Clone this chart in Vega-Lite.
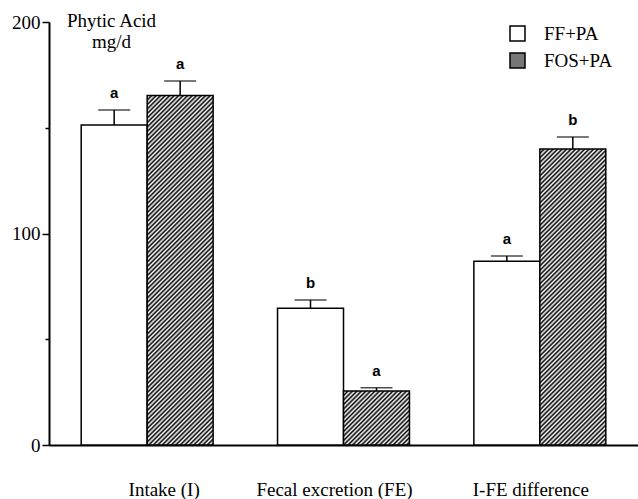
{
  "$schema": "https://vega.github.io/schema/vega-lite/v6.json",
  "autosize": {"type": "none"},
  "padding": {"left": 49, "top": 22, "right": 0, "bottom": 54},
  "width": 589,
  "height": 423,
  "background": "white",
  "config": {"view": {"stroke": null}},
  "data": {"values": [
    {"cat": "Intake (I)", "group": "FF+PA", "value": 151.3, "upper": 158.4, "letter": "a"},
    {"cat": "Intake (I)", "group": "FOS+PA", "value": 165.2, "upper": 172.1, "letter": "a"},
    {"cat": "Fecal excretion (FE)", "group": "FF+PA", "value": 64.6, "upper": 68.6, "letter": "b"},
    {"cat": "Fecal excretion (FE)", "group": "FOS+PA", "value": 25.5, "upper": 27.1, "letter": "a"},
    {"cat": "I-FE difference", "group": "FF+PA", "value": 86.9, "upper": 89.4, "letter": "a"},
    {"cat": "I-FE difference", "group": "FOS+PA", "value": 140.0, "upper": 145.6, "letter": "b"}
  ]},
  "encoding": {
    "x": {
      "field": "cat", "type": "nominal",
      "sort": ["Intake (I)", "Fecal excretion (FE)", "I-FE difference"],
      "scale": {"paddingInner": 0.328, "paddingOuter": 0.164},
      "axis": {
        "title": null, "labelAngle": 0, "ticks": false, "tickSize": 0,
        "labelFont": "Liberation Serif", "labelFontSize": 19, "labelColor": "black",
        "labelPadding": 35,
        "labelOffset": {"condition": [{"test": "datum.value === 'Intake (I)'", "value": 17}], "value": -9},
        "domainColor": "black", "domainWidth": 2
      }
    },
    "xOffset": {"field": "group", "type": "nominal", "scale": {"domain": ["FF+PA", "FOS+PA"], "paddingInner": 0, "paddingOuter": 0}},
    "y": {
      "field": "value", "type": "quantitative",
      "scale": {"domain": [0, 200], "nice": false},
      "axis": {
        "title": ["Phytic Acid", "mg/d"],
        "titleAngle": 0, "titleX": 62, "titleY": 4, "titleAlign": "center", "titleBaseline": "alphabetic",
        "titleFont": "Liberation Serif", "titleFontSize": 19, "titleFontWeight": "normal", "titleColor": "black", "titleLineHeight": 21,
        "values": [0, 50, 100, 150, 200],
        "labelExpr": "datum.value % 100 === 0 ? datum.label : ''",
        "labelFont": "Liberation Serif", "labelFontSize": 19, "labelColor": "black", "labelPadding": 2,
        "tickColor": "black", "tickWidth": 1.5,
        "tickSize": {"condition": {"test": "datum.value % 100 === 0", "value": 7}, "value": 4},
        "grid": false, "domainColor": "black", "domainWidth": 2
      }
    }
  },
  "layer": [
    {
      "transform": [{"filter": "datum.group === 'FF+PA'"}],
      "mark": {"type": "bar", "stroke": "black", "strokeWidth": 1.5},
      "encoding": {
        "fill": {
          "field": "group", "type": "nominal",
          "scale": {"domain": ["FF+PA", "FOS+PA"], "range": ["white", "#777777"]},
          "legend": {
            "title": null, "orient": "none", "legendX": 459, "legendY": 2, "padding": 0,
            "symbolType": "square", "symbolSize": 225, "symbolStrokeColor": "black", "symbolStrokeWidth": 1.5, "symbolOpacity": 1,
            "labelFont": "Liberation Serif", "labelFontSize": 19, "labelColor": "black", "labelOffset": 17, "rowPadding": 6,
            "encode": {"symbols": {"update": {
              "stroke": {"value": "black"},
              "strokeWidth": {"value": 1.5},
              "fill": [
                {"test": "datum.value === 'FOS+PA'", "value": {"gradient": "linear", "x1": 0, "y1": 0, "x2": 1, "y2": 1, "stops": [
                  {"offset": 0.05, "color": "#fff"}, {"offset": 0.05, "color": "#000"}, {"offset": 0.11, "color": "#000"}, {"offset": 0.11, "color": "#fff"},
                  {"offset": 0.2, "color": "#fff"}, {"offset": 0.2, "color": "#000"}, {"offset": 0.26, "color": "#000"}, {"offset": 0.26, "color": "#fff"},
                  {"offset": 0.35, "color": "#fff"}, {"offset": 0.35, "color": "#000"}, {"offset": 0.41, "color": "#000"}, {"offset": 0.41, "color": "#fff"},
                  {"offset": 0.5, "color": "#fff"}, {"offset": 0.5, "color": "#000"}, {"offset": 0.56, "color": "#000"}, {"offset": 0.56, "color": "#fff"},
                  {"offset": 0.65, "color": "#fff"}, {"offset": 0.65, "color": "#000"}, {"offset": 0.71, "color": "#000"}, {"offset": 0.71, "color": "#fff"},
                  {"offset": 0.8, "color": "#fff"}, {"offset": 0.8, "color": "#000"}, {"offset": 0.86, "color": "#000"}, {"offset": 0.86, "color": "#fff"}
                ]}},
                {"value": "white"}
              ]
            }}}
          }
        }
      }
    },
    {
      "transform": [{"filter": "datum.group === 'FOS+PA' && datum.cat === 'Intake (I)'"}],
      "mark": {"type": "bar", "stroke": "black", "strokeWidth": 1.5, "fill": {"gradient": "linear", "x1": 0, "y1": 0, "x2": 0.23479, "y2": 1.24357, "stops": [
        {"offset": 0, "color": "#000"}, {"offset": 0.005, "color": "#fff"}, {"offset": 0.01, "color": "#000"}, {"offset": 0.015, "color": "#fff"}, {"offset": 0.02, "color": "#000"}, {"offset": 0.025, "color": "#fff"}, {"offset": 0.03, "color": "#000"}, {"offset": 0.035, "color": "#fff"}, {"offset": 0.04, "color": "#000"}, {"offset": 0.045, "color": "#fff"},
        {"offset": 0.05, "color": "#000"}, {"offset": 0.055, "color": "#fff"}, {"offset": 0.06, "color": "#000"}, {"offset": 0.065, "color": "#fff"}, {"offset": 0.07, "color": "#000"}, {"offset": 0.075, "color": "#fff"}, {"offset": 0.08, "color": "#000"}, {"offset": 0.085, "color": "#fff"}, {"offset": 0.09, "color": "#000"}, {"offset": 0.095, "color": "#fff"},
        {"offset": 0.1, "color": "#000"}, {"offset": 0.105, "color": "#fff"}, {"offset": 0.11, "color": "#000"}, {"offset": 0.115, "color": "#fff"}, {"offset": 0.12, "color": "#000"}, {"offset": 0.125, "color": "#fff"}, {"offset": 0.13, "color": "#000"}, {"offset": 0.135, "color": "#fff"}, {"offset": 0.14, "color": "#000"}, {"offset": 0.145, "color": "#fff"},
        {"offset": 0.15, "color": "#000"}, {"offset": 0.155, "color": "#fff"}, {"offset": 0.16, "color": "#000"}, {"offset": 0.165, "color": "#fff"}, {"offset": 0.17, "color": "#000"}, {"offset": 0.175, "color": "#fff"}, {"offset": 0.18, "color": "#000"}, {"offset": 0.185, "color": "#fff"}, {"offset": 0.19, "color": "#000"}, {"offset": 0.195, "color": "#fff"},
        {"offset": 0.2, "color": "#000"}, {"offset": 0.205, "color": "#fff"}, {"offset": 0.21, "color": "#000"}, {"offset": 0.215, "color": "#fff"}, {"offset": 0.22, "color": "#000"}, {"offset": 0.225, "color": "#fff"}, {"offset": 0.23, "color": "#000"}, {"offset": 0.235, "color": "#fff"}, {"offset": 0.24, "color": "#000"}, {"offset": 0.245, "color": "#fff"},
        {"offset": 0.25, "color": "#000"}, {"offset": 0.255, "color": "#fff"}, {"offset": 0.26, "color": "#000"}, {"offset": 0.265, "color": "#fff"}, {"offset": 0.27, "color": "#000"}, {"offset": 0.275, "color": "#fff"}, {"offset": 0.28, "color": "#000"}, {"offset": 0.285, "color": "#fff"}, {"offset": 0.29, "color": "#000"}, {"offset": 0.295, "color": "#fff"},
        {"offset": 0.3, "color": "#000"}, {"offset": 0.305, "color": "#fff"}, {"offset": 0.31, "color": "#000"}, {"offset": 0.315, "color": "#fff"}, {"offset": 0.32, "color": "#000"}, {"offset": 0.325, "color": "#fff"}, {"offset": 0.33, "color": "#000"}, {"offset": 0.335, "color": "#fff"}, {"offset": 0.34, "color": "#000"}, {"offset": 0.345, "color": "#fff"},
        {"offset": 0.35, "color": "#000"}, {"offset": 0.355, "color": "#fff"}, {"offset": 0.36, "color": "#000"}, {"offset": 0.365, "color": "#fff"}, {"offset": 0.37, "color": "#000"}, {"offset": 0.375, "color": "#fff"}, {"offset": 0.38, "color": "#000"}, {"offset": 0.385, "color": "#fff"}, {"offset": 0.39, "color": "#000"}, {"offset": 0.395, "color": "#fff"},
        {"offset": 0.4, "color": "#000"}, {"offset": 0.405, "color": "#fff"}, {"offset": 0.41, "color": "#000"}, {"offset": 0.415, "color": "#fff"}, {"offset": 0.42, "color": "#000"}, {"offset": 0.425, "color": "#fff"}, {"offset": 0.43, "color": "#000"}, {"offset": 0.435, "color": "#fff"}, {"offset": 0.44, "color": "#000"}, {"offset": 0.445, "color": "#fff"},
        {"offset": 0.45, "color": "#000"}, {"offset": 0.455, "color": "#fff"}, {"offset": 0.46, "color": "#000"}, {"offset": 0.465, "color": "#fff"}, {"offset": 0.47, "color": "#000"}, {"offset": 0.475, "color": "#fff"}, {"offset": 0.48, "color": "#000"}, {"offset": 0.485, "color": "#fff"}, {"offset": 0.49, "color": "#000"}, {"offset": 0.495, "color": "#fff"},
        {"offset": 0.5, "color": "#000"}, {"offset": 0.505, "color": "#fff"}, {"offset": 0.51, "color": "#000"}, {"offset": 0.515, "color": "#fff"}, {"offset": 0.52, "color": "#000"}, {"offset": 0.525, "color": "#fff"}, {"offset": 0.53, "color": "#000"}, {"offset": 0.535, "color": "#fff"}, {"offset": 0.54, "color": "#000"}, {"offset": 0.545, "color": "#fff"},
        {"offset": 0.55, "color": "#000"}, {"offset": 0.555, "color": "#fff"}, {"offset": 0.56, "color": "#000"}, {"offset": 0.565, "color": "#fff"}, {"offset": 0.57, "color": "#000"}, {"offset": 0.575, "color": "#fff"}, {"offset": 0.58, "color": "#000"}, {"offset": 0.585, "color": "#fff"}, {"offset": 0.59, "color": "#000"}, {"offset": 0.595, "color": "#fff"},
        {"offset": 0.6, "color": "#000"}, {"offset": 0.605, "color": "#fff"}, {"offset": 0.61, "color": "#000"}, {"offset": 0.615, "color": "#fff"}, {"offset": 0.62, "color": "#000"}, {"offset": 0.625, "color": "#fff"}, {"offset": 0.63, "color": "#000"}, {"offset": 0.635, "color": "#fff"}, {"offset": 0.64, "color": "#000"}, {"offset": 0.645, "color": "#fff"},
        {"offset": 0.65, "color": "#000"}, {"offset": 0.655, "color": "#fff"}, {"offset": 0.66, "color": "#000"}, {"offset": 0.665, "color": "#fff"}, {"offset": 0.67, "color": "#000"}, {"offset": 0.675, "color": "#fff"}, {"offset": 0.68, "color": "#000"}, {"offset": 0.685, "color": "#fff"}, {"offset": 0.69, "color": "#000"}, {"offset": 0.695, "color": "#fff"},
        {"offset": 0.7, "color": "#000"}, {"offset": 0.705, "color": "#fff"}, {"offset": 0.71, "color": "#000"}, {"offset": 0.715, "color": "#fff"}, {"offset": 0.72, "color": "#000"}, {"offset": 0.725, "color": "#fff"}, {"offset": 0.73, "color": "#000"}, {"offset": 0.735, "color": "#fff"}, {"offset": 0.74, "color": "#000"}, {"offset": 0.745, "color": "#fff"},
        {"offset": 0.75, "color": "#000"}, {"offset": 0.755, "color": "#fff"}, {"offset": 0.76, "color": "#000"}, {"offset": 0.765, "color": "#fff"}, {"offset": 0.77, "color": "#000"}, {"offset": 0.775, "color": "#fff"}, {"offset": 0.78, "color": "#000"}, {"offset": 0.785, "color": "#fff"}, {"offset": 0.79, "color": "#000"}, {"offset": 0.795, "color": "#fff"},
        {"offset": 0.8, "color": "#000"}, {"offset": 0.805, "color": "#fff"}, {"offset": 0.81, "color": "#000"}, {"offset": 0.815, "color": "#fff"}, {"offset": 0.82, "color": "#000"}, {"offset": 0.825, "color": "#fff"}, {"offset": 0.83, "color": "#000"}, {"offset": 0.835, "color": "#fff"}, {"offset": 0.84, "color": "#000"}, {"offset": 0.845, "color": "#fff"},
        {"offset": 0.85, "color": "#000"}, {"offset": 0.855, "color": "#fff"}, {"offset": 0.86, "color": "#000"}, {"offset": 0.865, "color": "#fff"}, {"offset": 0.87, "color": "#000"}, {"offset": 0.875, "color": "#fff"}, {"offset": 0.88, "color": "#000"}, {"offset": 0.885, "color": "#fff"}, {"offset": 0.89, "color": "#000"}, {"offset": 0.895, "color": "#fff"},
        {"offset": 0.9, "color": "#000"}, {"offset": 0.905, "color": "#fff"}, {"offset": 0.91, "color": "#000"}, {"offset": 0.915, "color": "#fff"}, {"offset": 0.92, "color": "#000"}, {"offset": 0.925, "color": "#fff"}
      ]}}
    },
    {
      "transform": [{"filter": "datum.group === 'FOS+PA' && datum.cat === 'Fecal excretion (FE)'"}],
      "mark": {"type": "bar", "stroke": "black", "strokeWidth": 1.5, "fill": {"gradient": "linear", "x1": 0, "y1": 0, "x2": 4.0887, "y2": 3.3427, "stops": [
        {"offset": 0, "color": "#000"}, {"offset": 0.005, "color": "#fff"}, {"offset": 0.01, "color": "#000"}, {"offset": 0.015, "color": "#fff"}, {"offset": 0.02, "color": "#000"}, {"offset": 0.025, "color": "#fff"}, {"offset": 0.03, "color": "#000"}, {"offset": 0.035, "color": "#fff"}, {"offset": 0.04, "color": "#000"}, {"offset": 0.045, "color": "#fff"},
        {"offset": 0.05, "color": "#000"}, {"offset": 0.055, "color": "#fff"}, {"offset": 0.06, "color": "#000"}, {"offset": 0.065, "color": "#fff"}, {"offset": 0.07, "color": "#000"}, {"offset": 0.075, "color": "#fff"}, {"offset": 0.08, "color": "#000"}, {"offset": 0.085, "color": "#fff"}, {"offset": 0.09, "color": "#000"}, {"offset": 0.095, "color": "#fff"},
        {"offset": 0.1, "color": "#000"}, {"offset": 0.105, "color": "#fff"}, {"offset": 0.11, "color": "#000"}, {"offset": 0.115, "color": "#fff"}, {"offset": 0.12, "color": "#000"}, {"offset": 0.125, "color": "#fff"}, {"offset": 0.13, "color": "#000"}, {"offset": 0.135, "color": "#fff"}, {"offset": 0.14, "color": "#000"}, {"offset": 0.145, "color": "#fff"},
        {"offset": 0.15, "color": "#000"}, {"offset": 0.155, "color": "#fff"}, {"offset": 0.16, "color": "#000"}, {"offset": 0.165, "color": "#fff"}, {"offset": 0.17, "color": "#000"}, {"offset": 0.175, "color": "#fff"}, {"offset": 0.18, "color": "#000"}, {"offset": 0.185, "color": "#fff"}, {"offset": 0.19, "color": "#000"}, {"offset": 0.195, "color": "#fff"},
        {"offset": 0.2, "color": "#000"}, {"offset": 0.205, "color": "#fff"}, {"offset": 0.21, "color": "#000"}, {"offset": 0.215, "color": "#fff"}, {"offset": 0.22, "color": "#000"}, {"offset": 0.225, "color": "#fff"}, {"offset": 0.23, "color": "#000"}, {"offset": 0.235, "color": "#fff"}, {"offset": 0.24, "color": "#000"}, {"offset": 0.245, "color": "#fff"},
        {"offset": 0.25, "color": "#000"}, {"offset": 0.255, "color": "#fff"}, {"offset": 0.26, "color": "#000"}, {"offset": 0.265, "color": "#fff"}, {"offset": 0.27, "color": "#000"}, {"offset": 0.275, "color": "#fff"}
      ]}}
    },
    {
      "transform": [{"filter": "datum.group === 'FOS+PA' && datum.cat === 'I-FE difference'"}],
      "mark": {"type": "bar", "stroke": "black", "strokeWidth": 1.5, "fill": {"gradient": "linear", "x1": 0, "y1": 0, "x2": 0.32258, "y2": 1.4479, "stops": [
        {"offset": 0, "color": "#000"}, {"offset": 0.005, "color": "#fff"}, {"offset": 0.01, "color": "#000"}, {"offset": 0.015, "color": "#fff"}, {"offset": 0.02, "color": "#000"}, {"offset": 0.025, "color": "#fff"}, {"offset": 0.03, "color": "#000"}, {"offset": 0.035, "color": "#fff"}, {"offset": 0.04, "color": "#000"}, {"offset": 0.045, "color": "#fff"},
        {"offset": 0.05, "color": "#000"}, {"offset": 0.055, "color": "#fff"}, {"offset": 0.06, "color": "#000"}, {"offset": 0.065, "color": "#fff"}, {"offset": 0.07, "color": "#000"}, {"offset": 0.075, "color": "#fff"}, {"offset": 0.08, "color": "#000"}, {"offset": 0.085, "color": "#fff"}, {"offset": 0.09, "color": "#000"}, {"offset": 0.095, "color": "#fff"},
        {"offset": 0.1, "color": "#000"}, {"offset": 0.105, "color": "#fff"}, {"offset": 0.11, "color": "#000"}, {"offset": 0.115, "color": "#fff"}, {"offset": 0.12, "color": "#000"}, {"offset": 0.125, "color": "#fff"}, {"offset": 0.13, "color": "#000"}, {"offset": 0.135, "color": "#fff"}, {"offset": 0.14, "color": "#000"}, {"offset": 0.145, "color": "#fff"},
        {"offset": 0.15, "color": "#000"}, {"offset": 0.155, "color": "#fff"}, {"offset": 0.16, "color": "#000"}, {"offset": 0.165, "color": "#fff"}, {"offset": 0.17, "color": "#000"}, {"offset": 0.175, "color": "#fff"}, {"offset": 0.18, "color": "#000"}, {"offset": 0.185, "color": "#fff"}, {"offset": 0.19, "color": "#000"}, {"offset": 0.195, "color": "#fff"},
        {"offset": 0.2, "color": "#000"}, {"offset": 0.205, "color": "#fff"}, {"offset": 0.21, "color": "#000"}, {"offset": 0.215, "color": "#fff"}, {"offset": 0.22, "color": "#000"}, {"offset": 0.225, "color": "#fff"}, {"offset": 0.23, "color": "#000"}, {"offset": 0.235, "color": "#fff"}, {"offset": 0.24, "color": "#000"}, {"offset": 0.245, "color": "#fff"},
        {"offset": 0.25, "color": "#000"}, {"offset": 0.255, "color": "#fff"}, {"offset": 0.26, "color": "#000"}, {"offset": 0.265, "color": "#fff"}, {"offset": 0.27, "color": "#000"}, {"offset": 0.275, "color": "#fff"}, {"offset": 0.28, "color": "#000"}, {"offset": 0.285, "color": "#fff"}, {"offset": 0.29, "color": "#000"}, {"offset": 0.295, "color": "#fff"},
        {"offset": 0.3, "color": "#000"}, {"offset": 0.305, "color": "#fff"}, {"offset": 0.31, "color": "#000"}, {"offset": 0.315, "color": "#fff"}, {"offset": 0.32, "color": "#000"}, {"offset": 0.325, "color": "#fff"}, {"offset": 0.33, "color": "#000"}, {"offset": 0.335, "color": "#fff"}, {"offset": 0.34, "color": "#000"}, {"offset": 0.345, "color": "#fff"},
        {"offset": 0.35, "color": "#000"}, {"offset": 0.355, "color": "#fff"}, {"offset": 0.36, "color": "#000"}, {"offset": 0.365, "color": "#fff"}, {"offset": 0.37, "color": "#000"}, {"offset": 0.375, "color": "#fff"}, {"offset": 0.38, "color": "#000"}, {"offset": 0.385, "color": "#fff"}, {"offset": 0.39, "color": "#000"}, {"offset": 0.395, "color": "#fff"},
        {"offset": 0.4, "color": "#000"}, {"offset": 0.405, "color": "#fff"}, {"offset": 0.41, "color": "#000"}, {"offset": 0.415, "color": "#fff"}, {"offset": 0.42, "color": "#000"}, {"offset": 0.425, "color": "#fff"}, {"offset": 0.43, "color": "#000"}, {"offset": 0.435, "color": "#fff"}, {"offset": 0.44, "color": "#000"}, {"offset": 0.445, "color": "#fff"},
        {"offset": 0.45, "color": "#000"}, {"offset": 0.455, "color": "#fff"}, {"offset": 0.46, "color": "#000"}, {"offset": 0.465, "color": "#fff"}, {"offset": 0.47, "color": "#000"}, {"offset": 0.475, "color": "#fff"}, {"offset": 0.48, "color": "#000"}, {"offset": 0.485, "color": "#fff"}, {"offset": 0.49, "color": "#000"}, {"offset": 0.495, "color": "#fff"},
        {"offset": 0.5, "color": "#000"}, {"offset": 0.505, "color": "#fff"}, {"offset": 0.51, "color": "#000"}, {"offset": 0.515, "color": "#fff"}, {"offset": 0.52, "color": "#000"}, {"offset": 0.525, "color": "#fff"}, {"offset": 0.53, "color": "#000"}, {"offset": 0.535, "color": "#fff"}, {"offset": 0.54, "color": "#000"}, {"offset": 0.545, "color": "#fff"},
        {"offset": 0.55, "color": "#000"}, {"offset": 0.555, "color": "#fff"}, {"offset": 0.56, "color": "#000"}, {"offset": 0.565, "color": "#fff"}, {"offset": 0.57, "color": "#000"}, {"offset": 0.575, "color": "#fff"}, {"offset": 0.58, "color": "#000"}, {"offset": 0.585, "color": "#fff"}, {"offset": 0.59, "color": "#000"}, {"offset": 0.595, "color": "#fff"},
        {"offset": 0.6, "color": "#000"}, {"offset": 0.605, "color": "#fff"}, {"offset": 0.61, "color": "#000"}, {"offset": 0.615, "color": "#fff"}, {"offset": 0.62, "color": "#000"}, {"offset": 0.625, "color": "#fff"}, {"offset": 0.63, "color": "#000"}, {"offset": 0.635, "color": "#fff"}, {"offset": 0.64, "color": "#000"}, {"offset": 0.645, "color": "#fff"},
        {"offset": 0.65, "color": "#000"}, {"offset": 0.655, "color": "#fff"}, {"offset": 0.66, "color": "#000"}, {"offset": 0.665, "color": "#fff"}, {"offset": 0.67, "color": "#000"}, {"offset": 0.675, "color": "#fff"}, {"offset": 0.68, "color": "#000"}, {"offset": 0.685, "color": "#fff"}, {"offset": 0.69, "color": "#000"}, {"offset": 0.695, "color": "#fff"},
        {"offset": 0.7, "color": "#000"}, {"offset": 0.705, "color": "#fff"}, {"offset": 0.71, "color": "#000"}, {"offset": 0.715, "color": "#fff"}, {"offset": 0.72, "color": "#000"}, {"offset": 0.725, "color": "#fff"}, {"offset": 0.73, "color": "#000"}, {"offset": 0.735, "color": "#fff"}, {"offset": 0.74, "color": "#000"}, {"offset": 0.745, "color": "#fff"},
        {"offset": 0.75, "color": "#000"}, {"offset": 0.755, "color": "#fff"}, {"offset": 0.76, "color": "#000"}, {"offset": 0.765, "color": "#fff"}, {"offset": 0.77, "color": "#000"}, {"offset": 0.775, "color": "#fff"}, {"offset": 0.78, "color": "#000"}, {"offset": 0.785, "color": "#fff"}, {"offset": 0.79, "color": "#000"}, {"offset": 0.795, "color": "#fff"},
        {"offset": 0.8, "color": "#000"}, {"offset": 0.805, "color": "#fff"}, {"offset": 0.81, "color": "#000"}, {"offset": 0.815, "color": "#fff"}
      ]}}
    },
    {
      "mark": {"type": "rule", "color": "black", "strokeWidth": 1.5},
      "encoding": {"y2": {"field": "upper"}}
    },
    {
      "mark": {"type": "tick", "color": "black", "thickness": 1.5, "size": 32, "orient": "horizontal"},
      "encoding": {"y": {"field": "upper", "type": "quantitative"}}
    },
    {
      "mark": {"type": "text", "font": "Liberation Sans", "fontWeight": "bold", "fontSize": 15, "color": "black", "baseline": "alphabetic", "dy": -12},
      "encoding": {"y": {"field": "upper", "type": "quantitative"}, "text": {"field": "letter"}}
    }
  ]
}
